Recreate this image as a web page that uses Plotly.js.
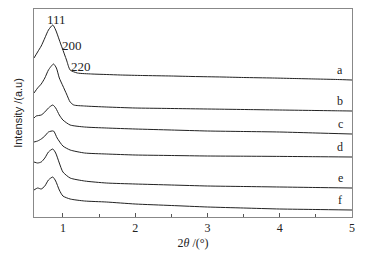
<!DOCTYPE html>
<html><head><meta charset="utf-8">
<script src="https://cdn.plot.ly/plotly-3.0.1.min.js"></script>
<style>html,body{margin:0;padding:0;background:#fff}#c{width:365px;height:258px}</style>
</head><body><div id="c"></div>
<script>
const xA = [0.6,0.65,0.7,0.75,0.8,0.86,0.9,0.95,0.99,1.05,1.1,1.2,1.4,1.6,1.8,2.1,2.5,2.8,3.2,3.5,3.9,4.2,4.5,4.8,5];
const yA = [159,165,171,179,187,192,187,177,169,157,147,144,143,142.5,142,141.5,141,140.5,140,139.5,139,138.5,138,137.5,137];
const xB = [0.6,0.65,0.7,0.75,0.8,0.87,0.91,0.95,1.0,1.05,1.1,1.15,1.3,1.6,2,2.4,2.8,3.2,3.6,4,4.4,4.8,5];
const yB = [124,129,133,139,147,153,149,139,131,123,115,112,111,110,109,108.6,108.2,107.8,107.4,107,106.6,106.2,106];
const xC = [0.6,0.63,0.7,0.75,0.8,0.86,0.9,0.95,1.0,1.1,1.3,1.6,2,2.5,3,3.5,4,4.5,5];
const yC = [99,101,102,105,109,112,109,102,97,92,90,89,88,87,86,85.5,85,84,83];
const xD = [0.6,0.65,0.7,0.75,0.8,0.87,0.92,1.0,1.1,1.3,1.6,2,2.5,3,3.5,4,4.5,5];
const yD = [75,76,78,81,85,86,79,71,67,64,63,62,61.5,61,60.8,60.6,60.3,60];
const xE = [0.6,0.65,0.7,0.75,0.8,0.86,0.9,0.95,1.0,1.1,1.3,1.6,2,2.5,3,3.5,4,4.5,5];
const yE = [55,54,55,59,65,68,64,54,45,39,36,34,33,32,31,30.5,30,29.5,29];
const xF = [0.6,0.65,0.7,0.75,0.8,0.86,0.9,0.95,1.0,1.1,1.3,1.6,2,2.5,3,3.5,4,4.5,5];
const yF = [27,29,28,31,37,40,36,27,21,18,16,15,13,11.5,10,9,8,7.5,7];
const seriesLabels = ['a','b','c','d','e','f'];
const peakLabels = ['111','200','220'];
const peakX = [0.905,1.126,1.25];
const peakY = [198,172,151];

const xs=[xA,xB,xC,xD,xE,xF], ys=[yA,yB,yC,yD,yE,yF];
const traces = xs.map((x,i)=>({x:x,y:ys[i],type:'scatter',mode:'lines',line:{color:'#222',width:1,shape:'spline',smoothing:0.6},hoverinfo:'skip'}));
const ann = [];
seriesLabels.forEach((s,i)=>{const y=ys[i];ann.push({x:4.84,y:y[y.length-1]+1,text:s,showarrow:false,yanchor:'bottom',xanchor:'center',font:{family:'Liberation Serif',size:12,color:'#222'}});});
peakLabels.forEach((s,i)=>ann.push({x:peakX[i],y:peakY[i],text:s,showarrow:false,xanchor:'center',yanchor:'middle',font:{family:'Liberation Serif',size:13,color:'#222'}}));
const layout = {
  width:365,height:258,margin:{l:34,r:13,t:9,b:41},
  paper_bgcolor:'#fff',plot_bgcolor:'#fff',showlegend:false,
  xaxis:{range:[0.6,5],tickmode:'linear',tick0:1,dtick:1,ticks:'inside',ticklen:4,tickcolor:'#555',
    minor:{dtick:0.5,tick0:0.5,ticks:'inside',ticklen:3,tickcolor:'#555'},
    showline:true,mirror:true,linecolor:'#888',linewidth:1,showgrid:false,zeroline:false,
    tickfont:{family:'Liberation Serif',size:12,color:'#222'},
    title:{text:'2<i>θ</i> /(°)',font:{family:'Liberation Serif',size:12,color:'#222'},standoff:4}},
  yaxis:{range:[0,208],showticklabels:false,ticks:'',showline:true,mirror:true,linecolor:'#888',linewidth:1,showgrid:false,zeroline:false,
    title:{text:'Intensity /(a.u)',font:{family:'Liberation Sans',size:11,color:'#222'},standoff:8}},
  annotations:ann
};
Plotly.newPlot('c',traces,layout,{staticPlot:true});
</script></body></html>
